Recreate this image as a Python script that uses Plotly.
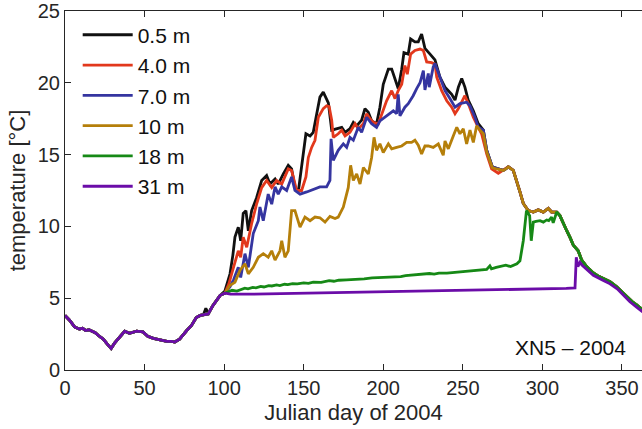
import plotly.graph_objects as go

# ---- shared early segment (all depths), days 0-82.5
days_shared = [0, 1, 3, 6, 9, 11, 13, 15, 17, 19, 21, 24, 27, 29, 31, 34, 37.5, 40.5, 43, 45, 49, 52, 55.5, 59.5, 62, 64, 67, 69, 72, 74, 76.5, 79.5, 82.5]
temp_shared = [3.8, 3.7, 3.45, 3.0, 2.85, 2.9, 2.75, 2.8, 2.7, 2.6, 2.4, 2.15, 1.75, 1.5, 1.85, 2.25, 2.7, 2.55, 2.65, 2.7, 2.65, 2.35, 2.2, 2.1, 2.05, 2.0, 2.0, 1.95, 2.15, 2.45, 2.75, 3.1, 3.65]

# shared segment 86-100.5 (all but 0.5 m)
days_shared2 = [85, 87, 90, 93, 97.5, 100.5]
temp_shared2 = [3.8, 3.85, 3.9, 4.5, 5.2, 5.35]

# ---- individual segments
days_05 = [85, 87, 88.5, 90, 93, 97.5, 100.5, 103.7, 105.5, 106.8, 108.9, 110.4, 112, 113.7, 115.2, 117.3, 120.4, 123.6, 126.7, 128.8, 132, 134, 137.2, 140.3, 142.4, 144.5, 146.6, 149.3, 151.4, 154, 156, 158.2, 160.2, 162.3, 165.5, 167.6, 170.7, 173.9, 176, 179.1, 181.2, 183.3, 186.4, 188.5, 190.6, 192.7, 195.8, 197.9, 200, 203.2, 205.3, 207.4, 209.4, 211.6, 213, 215.7, 217.2, 219.9, 222, 224.1, 226.2, 229.4, 232.5, 235.6, 238.8, 240.9, 243, 245.1, 247.2, 249.3, 251.3, 253.4, 256.6, 259.7, 262.9, 265, 267, 268.5, 271.3]
temp_05 = [3.8, 3.85, 4.3, 3.95, 4.5, 5.2, 5.5, 6.7, 8.0, 9.25, 9.95, 9.0, 10.9, 11.1, 9.7, 11.1, 12.0, 13.2, 13.55, 12.95, 13.3, 12.95, 13.65, 14.25, 14.0, 12.75, 12.4, 14.6, 16.45, 16.3, 16.55, 17.85, 19.0, 19.35, 18.6, 16.7, 16.8, 16.9, 16.55, 16.8, 17.25, 17.0, 17.4, 18.2, 17.95, 17.35, 17.15, 18.3, 19.9, 20.95, 20.95, 20.3, 19.6, 20.95, 22.1, 22.0, 23.05, 22.85, 22.85, 23.4, 22.4, 22.0, 21.6, 20.4, 19.7, 19.45, 19.2, 18.8, 19.7, 20.3, 19.7, 18.8, 18.05, 17.15, 16.7, 15.3, 14.6, 14.15, 14.05]

days_40 = [103, 105, 107, 108.9, 110.4, 112, 114.2, 117.3, 120.4, 123.6, 126.7, 129.9, 133, 136.2, 140.3, 142.4, 145.6, 148.7, 151.4, 152.9, 155, 157.1, 159.2, 162.3, 164.4, 166, 167.6, 168.6, 171.7, 173.9, 176, 179.1, 182.3, 184.3, 187.5, 189.6, 191.7, 193.7, 196.9, 200, 202.1, 205.3, 207.4, 209.4, 211.6, 213.6, 215.1, 217.2, 219.9, 223.1, 225.2, 227.3, 230.4, 232.5, 233.6, 236.7, 239.9, 243, 245.1, 247.2, 249.3, 251.3, 253.4, 256.6, 259.7, 261.8, 265, 268.1, 272.3]
temp_40 = [6.0, 6.8, 7.5, 8.3, 7.85, 9.25, 8.55, 10.2, 11.55, 12.7, 13.2, 12.7, 13.2, 12.95, 14.0, 13.9, 12.5, 12.5, 13.45, 14.8, 15.5, 16.0, 17.6, 18.2, 18.4, 18.35, 17.4, 16.2, 16.45, 16.7, 16.3, 16.55, 17.15, 16.8, 17.15, 17.85, 17.5, 17.25, 17.15, 18.05, 18.75, 19.45, 18.9, 19.45, 19.9, 21.2, 20.6, 22.0, 22.25, 22.35, 22.25, 21.45, 21.4, 21.3, 20.4, 19.45, 18.75, 18.3, 17.85, 18.2, 18.65, 19.1, 18.55, 17.6, 16.9, 16.45, 15.05, 14.0, 13.7]

days_70 = [103.7, 106, 108.9, 110.4, 113.1, 115.2, 118.3, 121.5, 122.5, 124.6, 127.7, 129.9, 132, 134, 136.2, 139.3, 142.4, 144.5, 147.7, 151.9, 156, 160.2, 164.4, 166.5, 167.2, 168.6, 171.7, 174.9, 177, 179.1, 181.2, 184.3, 186.4, 189.6, 192.7, 195.8, 197.9, 201.1, 204.2, 206.3, 208.4, 209.4, 210.5, 213.6, 215.7, 218.8, 221, 223.1, 225.2, 226.2, 228.3, 228.9, 231.4, 232.5, 235.6, 238.8, 241.9, 245.1, 248.2, 252.4, 254.5, 257.6, 259.7, 262.9, 265, 267, 268.5, 271.3]
temp_70 = [5.8, 6.3, 7.15, 6.45, 8.1, 7.15, 9.5, 10.4, 11.35, 10.4, 12.25, 11.55, 12.75, 12.25, 12.75, 12.5, 13.45, 12.5, 12.25, 12.4, 12.6, 12.75, 12.75, 13.2, 16.1, 14.6, 15.3, 15.75, 15.5, 16.2, 16.0, 16.9, 16.55, 17.6, 17.15, 16.9, 17.35, 17.6, 17.85, 18.05, 17.85, 19.2, 17.7, 18.3, 18.55, 19.1, 19.6, 20.0, 20.85, 19.5, 20.65, 19.7, 21.1, 21.35, 20.4, 19.45, 18.9, 18.3, 18.55, 18.65, 18.4, 17.6, 16.9, 16.7, 15.3, 14.6, 14.15, 14.05]

days_10 = [103.7, 106.8, 110, 113.1, 115.2, 118.3, 121.5, 124.6, 127.7, 129.9, 132, 135.1, 136.2, 138.2, 140.3, 142.4, 144.5, 147.7, 150.8, 154, 157.1, 160.2, 163.4, 166.5, 169.7, 171.7, 174.9, 178, 179.5, 181.2, 183.3, 185.4, 187.5, 190.6, 192.7, 194.2, 195.8, 197.9, 200, 203.2, 205.3, 208.4, 211.6, 214.7, 217.8, 219.9, 222, 224.1, 226.2, 228.3, 231.4, 234.6, 237.7, 238.8, 240.9, 244, 246.2, 248.2, 250.3, 252.4, 254.5, 256.6, 258.7, 260.8, 262.9, 265, 267, 268.5, 271.3]
temp_10 = [5.9, 6.1, 6.95, 7.4, 6.7, 7.15, 7.85, 8.1, 7.85, 8.3, 7.65, 8.3, 9.0, 7.85, 8.3, 11.1, 11.1, 9.95, 10.65, 10.4, 10.65, 10.6, 10.3, 10.7, 10.55, 10.65, 11.35, 12.7, 14.25, 13.2, 13.65, 12.95, 14.1, 13.65, 14.8, 16.2, 15.3, 15.75, 15.15, 15.75, 15.4, 15.5, 15.6, 15.85, 15.85, 16.0, 15.65, 15.05, 15.6, 15.6, 15.5, 15.75, 14.95, 15.95, 15.4, 16.3, 16.9, 16.45, 16.8, 15.75, 16.7, 15.85, 17.0, 16.7, 16.45, 15.2, 14.55, 14.1, 14.0]

# common segment of upper sensors, days 275-309
days_upper = [275.4, 277, 278.6, 281.7, 283.8, 285.9, 288, 291.1, 294.3, 296, 297.4, 300.6, 302, 303.7, 305.8, 309]
temp_upper = [13.9, 14.0, 14.15, 13.9, 13.2, 12.4, 11.6, 11.1, 11.0, 11.1, 11.15, 11.0, 11.1, 11.25, 11.0, 11.0]

days_18 = [103, 105, 108, 110, 113, 115, 118, 120, 123, 125, 128, 130, 133, 135, 138, 140, 143, 146, 150, 153, 156, 161, 166, 169, 172, 177, 182, 185, 188, 193, 198, 203, 208, 211, 214, 219, 224, 229, 232, 235, 240, 245, 250, 255, 260, 265, 267, 268, 271, 274, 277, 280, 282, 284, 285.9, 288, 290, 292, 293, 294.3, 296, 298.5, 300.6, 302.7, 304, 305.8, 306.8, 309]
temp_18 = [5.45, 5.55, 5.5, 5.6, 5.7, 5.65, 5.75, 5.72, 5.82, 5.78, 5.88, 5.85, 5.92, 5.88, 5.97, 5.95, 6.02, 6.0, 6.07, 6.03, 6.12, 6.1, 6.22, 6.18, 6.25, 6.28, 6.3, 6.34, 6.35, 6.42, 6.45, 6.48, 6.53, 6.5, 6.57, 6.62, 6.65, 6.72, 6.68, 6.74, 6.75, 6.8, 6.82, 6.87, 6.9, 7.0, 7.25, 7.05, 7.15, 7.2, 7.3, 7.2, 7.28, 7.4, 7.6, 9.0, 11.1, 10.75, 9.0, 10.3, 10.35, 10.4, 10.3, 10.45, 10.4, 10.65, 10.25, 11.0]

# late common decline (all but 31 m)
days_tail = [311, 313, 315.3, 317.5, 319.4, 322.5, 324.7, 327.8, 332, 335, 338, 342.5, 346.7, 350.8, 355, 357, 359, 363]
temp_tail = [10.75, 10.2, 9.7, 9.2, 8.7, 8.3, 7.65, 7.2, 6.75, 6.55, 6.4, 6.15, 5.8, 5.35, 4.9, 4.7, 4.55, 4.2]

days_31 = [104, 115, 125, 135, 145, 155, 164, 175, 185, 200, 215, 233, 250, 271, 285, 303, 315, 320.5, 321.3, 322.3, 323.6, 325, 328, 332, 338, 342.5, 347, 351, 355, 359, 363]
temp_31 = [5.28, 5.28, 5.3, 5.3, 5.32, 5.35, 5.37, 5.4, 5.43, 5.47, 5.48, 5.5, 5.53, 5.58, 5.6, 5.63, 5.68, 5.72, 7.85, 7.2, 7.5, 7.3, 7.0, 6.6, 6.25, 6.0, 5.65, 5.2, 4.75, 4.4, 4.05]

labels = ["0.5 m", "4.0 m", "7.0 m", "10 m", "18 m", "31 m"]
colors = ["#111111", "#e2381c", "#3535a0", "#b57f0a", "#168916", "#6b0ca8"]

series = [
    (days_shared + days_05 + days_upper + days_tail, temp_shared + temp_05 + temp_upper + temp_tail),
    (days_shared + days_shared2 + days_40 + days_upper + days_tail, temp_shared + temp_shared2 + temp_40 + temp_upper + temp_tail),
    (days_shared + days_shared2 + days_70 + days_upper + days_tail, temp_shared + temp_shared2 + temp_70 + temp_upper + temp_tail),
    (days_shared + days_shared2 + days_10 + days_upper + days_tail, temp_shared + temp_shared2 + temp_10 + temp_upper + temp_tail),
    (days_shared + days_shared2 + days_18 + days_tail, temp_shared + temp_shared2 + temp_18 + temp_tail),
    (days_shared + days_shared2 + days_31, temp_shared + temp_shared2 + temp_31),
]

fig = go.Figure()
for (x, y), lab, col in zip(series, labels, colors):
    fig.add_trace(go.Scatter(x=x, y=y, mode="lines", name=lab,
                             line=dict(color=col, width=2.8)))

font_family = "Liberation Sans, Arial, sans-serif"
axis_color = "#262626"
fig.update_layout(
    width=642, height=429,
    margin=dict(l=65, r=0, t=11, b=59),
    paper_bgcolor="white", plot_bgcolor="white",
    font=dict(family=font_family, size=20, color=axis_color),
    showlegend=True,
    legend=dict(x=0.022, y=0.99, xanchor="left", yanchor="top",
                font=dict(size=21, color="#111111"), bgcolor="rgba(0,0,0,0)",
                itemwidth=50, tracegroupgap=0),
    xaxis=dict(range=[0, 362.6], tickvals=[0, 50, 100, 150, 200, 250, 300, 350],
               ticks="inside", ticklen=6, tickcolor=axis_color, showline=True,
               linecolor=axis_color, linewidth=1, mirror="ticks", showgrid=False,
               zeroline=False, title=dict(text="Julian day of 2004", font=dict(size=22), standoff=6),
               tickfont=dict(size=20)),
    yaxis=dict(range=[0, 25], tickvals=[0, 5, 10, 15, 20, 25],
               ticks="inside", ticklen=6, tickcolor=axis_color, showline=True,
               linecolor=axis_color, linewidth=1, showgrid=False,
               zeroline=False, title=dict(text="temperature [°C]", font=dict(size=22), standoff=6),
               tickfont=dict(size=20)),
    annotations=[dict(text="XN5 – 2004", xref="paper", yref="paper", x=0.975, y=0.064,
                      xanchor="right", yanchor="middle", showarrow=False,
                      font=dict(size=21, color="#111111"))],
)

fig.write_html("out.html")
